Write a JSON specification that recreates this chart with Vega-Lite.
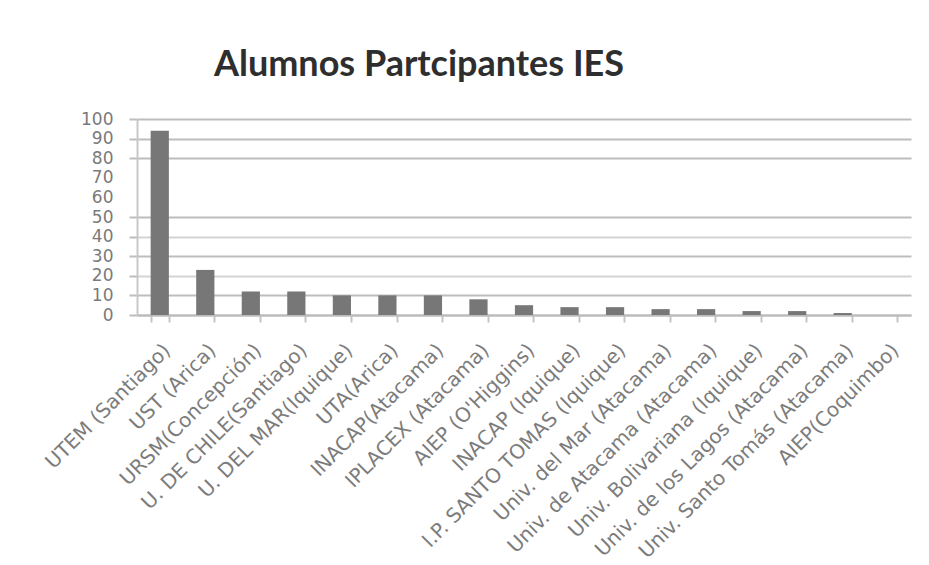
{
  "$schema": "https://vega.github.io/schema/vega-lite/v6.json",
  "width": 774,
  "height": 196,
  "autosize": {"type": "none"},
  "padding": {"left": 137, "top": 119, "right": 18, "bottom": 250},
  "background": "white",
  "title": {
    "text": "Alumnos Partcipantes IES",
    "font": "Lato",
    "fontSize": 36,
    "fontWeight": "bold",
    "color": "#2e2e2e",
    "anchor": "middle",
    "baseline": "alphabetic",
    "dx": -105,
    "offset": -2
  },
  "data": {
    "values": [
      {"ies": "UTEM (Santiago)", "alumnos": 94},
      {"ies": "UST (Arica)", "alumnos": 23},
      {"ies": "URSM(Concepción)", "alumnos": 12},
      {"ies": "U. DE CHILE(Santiago)", "alumnos": 12},
      {"ies": "U. DEL MAR(Iquique)", "alumnos": 10},
      {"ies": "UTA(Arica)", "alumnos": 10},
      {"ies": "INACAP(Atacama)", "alumnos": 10},
      {"ies": "IPLACEX (Atacama)", "alumnos": 8},
      {"ies": "AIEP (O'Higgins)", "alumnos": 5},
      {"ies": "INACAP (Iquique)", "alumnos": 4},
      {"ies": "I.P. SANTO TOMAS (Iquique)", "alumnos": 4},
      {"ies": "Univ. del Mar (Atacama)", "alumnos": 3},
      {"ies": "Univ. de Atacama (Atacama)", "alumnos": 3},
      {"ies": "Univ. Bolivariana (Iquique)", "alumnos": 2},
      {"ies": "Univ. de los Lagos (Atacama)", "alumnos": 2},
      {"ies": "Univ. Santo Tomás (Atacama)", "alumnos": 1},
      {"ies": "AIEP(Coquimbo)", "alumnos": 0}
    ]
  },
  "mark": {"type": "bar", "color": "#777777"},
  "encoding": {
    "x": {
      "field": "ies",
      "type": "nominal",
      "sort": null,
      "scale": {"paddingInner": 0.6, "paddingOuter": 0.3},
      "axis": {
        "title": null,
        "labelAngle": -45,
        "labelFont": "DejaVu Sans",
        "labelFontSize": 20,
        "labelColor": "#7c7c7c",
        "labelPadding": 18,
        "labelLimit": 0,
        "tickBand": "extent",
        "tickColor": "#c4c4c4",
        "tickSize": 7,
        "tickWidth": 2,
        "domainColor": "#bbbbbb",
        "domainWidth": 2,
        "labelOverlap": false,
        "labelBound": false
      }
    },
    "y": {
      "field": "alumnos",
      "type": "quantitative",
      "scale": {"domain": [0, 100], "nice": false},
      "axis": {
        "title": null,
        "values": [0, 10, 20, 30, 40, 50, 60, 70, 80, 90, 100],
        "labelFont": "DejaVu Sans",
        "labelFontSize": 17,
        "labelColor": "#7a7a7a",
        "labelPadding": 16,
        "tickSize": 8,
        "tickColor": "#bdbdbd",
        "tickWidth": 2,
        "tickOpacity": {"condition": {"test": "datum.value == 60 || datum.value == 70", "value": 0}, "value": 1},
        "domainColor": "#c8c8c8",
        "domainWidth": 2,
        "grid": true,
        "gridColor": {"condition": {"test": "datum.value == 20 || datum.value == 40", "value": "#d4d4d4"}, "value": "#bdbdbd"},
        "gridOpacity": {"condition": {"test": "datum.value == 60 || datum.value == 70", "value": 0}, "value": 1},
        "gridWidth": 2
      }
    }
  },
  "config": {"view": {"stroke": null}}
}
